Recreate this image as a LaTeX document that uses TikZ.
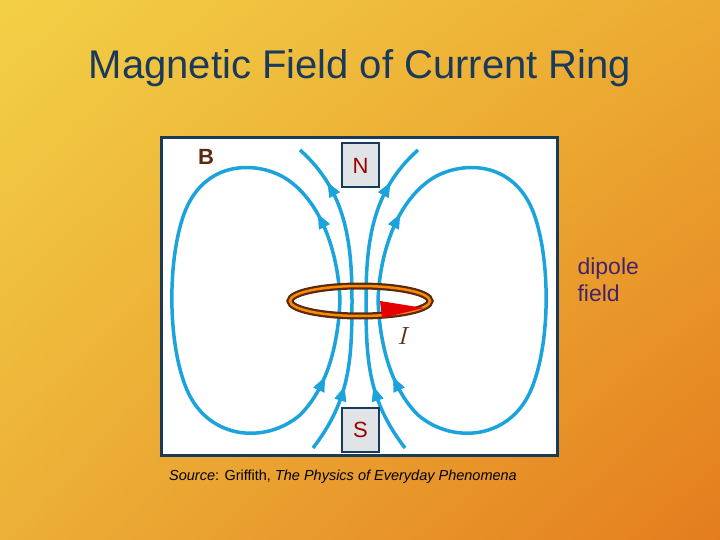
\documentclass[tikz,border=0pt]{standalone}
\usepackage{fontspec}
\setmainfont{Liberation Sans}
\usetikzlibrary{decorations.markings,arrows.meta,shadings}
\definecolor{fl}{HTML}{1BA3DC}
\definecolor{navy}{HTML}{1A3A5C}
\definecolor{brn}{HTML}{5A2A10}
\definecolor{bgul}{RGB}{243,208,70}
\definecolor{bgur}{RGB}{236,170,50}
\definecolor{bgll}{RGB}{236,175,55}
\definecolor{bglr}{RGB}{228,125,30}
\tikzset{
 field/.style={draw=fl,line width=3.5pt},
 arr/.style={postaction={decorate},decoration={markings,mark=at position #1 with {\fill[fl] (5pt,0)--(-9pt,6pt)--(-9pt,-6pt)--cycle;}}},
 pole/.style={draw=navy,line width=2pt,fill=cyan!10!gray!25,minimum width=37pt,minimum height=44pt,inner sep=0pt,text=red!60!black,font=\fontsize{22}{22}\selectfont}
}
\begin{document}
\begin{tikzpicture}[x=1pt,y=-1pt]
\shade[upper left=bgul,upper right=bgur,lower left=bgll,lower right=bglr] (0,0) rectangle (720,540);
\useasboundingbox (0,0) rectangle (720,540);
\node[text=navy,font=\fontsize{40}{40}\selectfont] (title) at (360,68) {Magnetic Field of Current Ring};
\node[draw=navy,line width=3pt,fill=white,minimum width=396pt,minimum height=318pt,inner sep=0pt] (frame) at (359,296.5) {};
% left loop
\draw[field,arr=0.12,arr=0.88] (340,300) .. controls (338,250) and (320,200) .. (285,178) .. controls (255,160) and (200,160) .. (182,220) .. controls (168,265) and (168,340) .. (185,385) .. controls (205,440) and (265,445) .. (300,415) .. controls (325,390) and (338,350) .. (340,300);
% right loop
\draw[field,arr=0.12,arr=0.88] (378,300) .. controls (380,250) and (398,200) .. (433,178) .. controls (463,160) and (518,160) .. (536,220) .. controls (550,265) and (550,340) .. (533,385) .. controls (513,440) and (453,445) .. (418,415) .. controls (393,390) and (380,350) .. (378,300);
% inner lines
\coordinate (lt) at (300,150); \coordinate (lb) at (313,448);
\coordinate (rt) at (418,150); \coordinate (rb) at (405,448);
\draw[field,arr=0.2,arr=0.85] (lb) .. controls (350,400) and (352,360) .. (352,300) .. controls (352,240) and (345,190) .. (lt);
\draw[field,arr=0.2,arr=0.85] (rb) .. controls (368,400) and (366,360) .. (366,300) .. controls (366,240) and (373,190) .. (rt);
% ring
\draw[brn,line width=7pt] (360,301) ellipse (70 and 15);
\draw[orange!90!yellow,line width=2.5pt] (360,301) ellipse (70 and 15);
\fill[red!90!black] (380,301)--(424,308)--(382,318)--cycle;
\node[text=brn,font=\fontsize{24}{24}\itshape\rmfamily\selectfont] (I) at (404,336) {$I$};
\node[pole] (N) at (360.5,165.5) {N};
\node[pole] (S) at (360.5,429.5) {S};
\node[text=brn,font=\bfseries\fontsize{22}{22}\selectfont] (B) at (206,157) {B};
\node[text=navy!60!violet,font=\fontsize{23}{27}\selectfont,align=left,anchor=north west] (dip) at (574,254) {dipole\\field};
\node[font=\fontsize{14.5}{15}\selectfont,text=black] (src) at (343,477) {\textit{Source}: Griffith, \textit{The Physics of Everyday Phenomena}};
\end{tikzpicture}
\end{document}
